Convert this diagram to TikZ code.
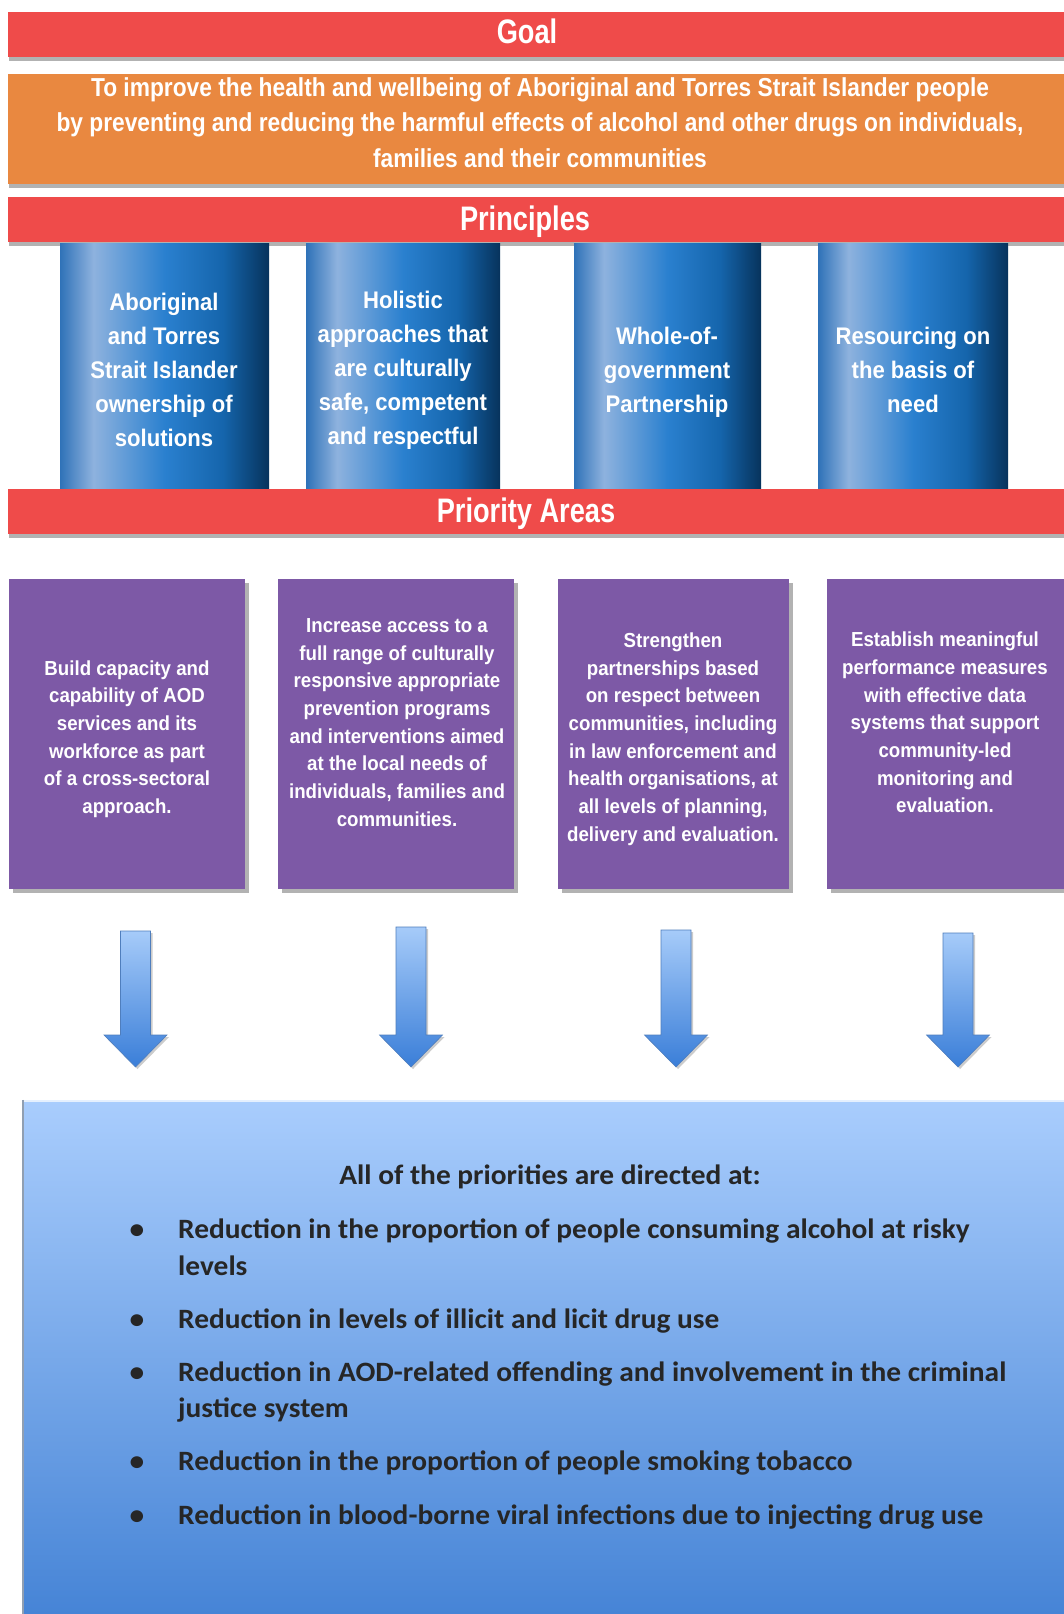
\documentclass[tikz,border=0pt]{standalone}
\usepackage{fontspec}
\setmainfont{Liberation Sans}[FakeStretch=0.92]
\newfontfamily\goalfont{Liberation Sans}[FakeStretch=0.875]
\newfontfamily\labelfont{Liberation Sans}[FakeStretch=0.8]
\newfontfamily\calfont{Carlito}[FakeStretch=1.05]
\usetikzlibrary{shadows}
\definecolor{barred}{HTML}{EF4B4A}
\definecolor{goalorange}{HTML}{E98840}
\definecolor{prpurple}{HTML}{7D59A6}
\definecolor{plA}{HTML}{2F72B8}
\definecolor{plB}{HTML}{8EB2DE}
\definecolor{plC}{HTML}{2A80CF}
\definecolor{plD}{HTML}{1565AC}
\definecolor{plE}{HTML}{07335C}
\definecolor{boxtop}{HTML}{A9CDFD}
\definecolor{boxbot}{HTML}{4684D6}
\definecolor{arrtop}{HTML}{A6CBF9}
\definecolor{arrbot}{HTML}{3A7ED8}
\definecolor{outtext}{HTML}{262626}
\pgfdeclarehorizontalshading{pillarshade}{100bp}{color(0bp)=(plA); color(25bp)=(plA); color(33bp)=(plB); color(50bp)=(plC); color(64bp)=(plD); color(75bp)=(plE); color(100bp)=(plE)}
\begin{document}
\begin{tikzpicture}[x=1pt,y=-1pt,
  barshadow/.style={drop shadow={shadow xshift=1pt,shadow yshift=-4pt,fill=black,opacity=0.3}},
  redbar/.style={rectangle,fill=barred,inner sep=0pt,minimum width=1056,minimum height=45,barshadow},
  bartxt/.style={text=white,inner sep=0pt,anchor=base,font=\labelfont\bfseries\fontsize{34}{40}\selectfont},
  goalbox/.style={rectangle,fill=goalorange,inner sep=0pt,minimum width=1056,minimum height=110,barshadow},
  goaltxt/.style={text=white,align=center,inner sep=0pt,font=\goalfont\bfseries\fontsize{26}{35.5}\selectfont},
  pillar/.style={rectangle,shade,shading=pillarshade,inner sep=0pt,minimum height=245},
  pillartxt/.style={text=white,align=center,inner sep=0pt,font=\bfseries\fontsize{24}{34}\selectfont},
  prbox/.style={rectangle,fill=prpurple,inner sep=0pt,minimum height=310,drop shadow={shadow xshift=4pt,shadow yshift=-4pt,fill=black,opacity=0.3}},
  prtxt/.style={text=white,align=center,inner sep=0pt,font=\bfseries\fontsize{20.3}{27.7}\selectfont},
  bluearrow/.style={top color=arrtop,bottom color=arrbot,draw=arrbot!70!gray,line width=0.6pt,drop shadow={shadow xshift=2pt,shadow yshift=-2pt,fill=black,opacity=0.2}},
  outbox/.style={rectangle,top color=boxtop,bottom color=boxbot,inner sep=0pt,minimum width=1041,minimum height=514},
  outtxt/.style={text=outtext,font=\calfont\bfseries\fontsize{28}{36.5}\selectfont,inner sep=0pt,align=left},
]
\useasboundingbox (0,0) rectangle (1064,1614);
\fill[white] (0,0) rectangle (1064,1614);

% bars and goal
\node[redbar] (goal) at (536,34) {};
\node[bartxt] (goall) at (527,43) {Goal};
\node[goalbox] (goalbg) at (536,129) {};
\node[goaltxt] (goaltext) at (540,122.5) {To improve the health and wellbeing of Aboriginal and Torres Strait Islander people\\by preventing and reducing the harmful effects of alcohol and other drugs on individuals,\\families and their communities};
\node[redbar] (principles) at (536,219.5) {};
\node[bartxt] (principlesl) at (525,230) {Principles};

% pillars
\node[pillar,minimum width=209] (p1) at (164.5,365.5) {};
\node[pillar,minimum width=194] (p2) at (403,365.5) {};
\node[pillar,minimum width=187] (p3) at (667.5,365.5) {};
\node[pillar,minimum width=190] (p4) at (913,365.5) {};
\node[pillartxt] (p1t) at (164,370) {Aboriginal\\and Torres\\Strait Islander\\ownership of\\solutions};
\node[pillartxt] (p2t) at (403,370) {Holistic\\approaches that\\are culturally\\safe, competent\\and respectful};
\node[pillartxt] (p3t) at (667,372) {Whole-of-\\government\\Partnership};
\node[pillartxt] (p4t) at (913,370) {Resourcing on\\the basis of\\need};

\node[redbar] (priorities) at (536,511) {};
\node[bartxt] (prioritiesl) at (526,522) {Priority Areas};

% priority boxes
\node[prbox,minimum width=236] (a1) at (127,734) {};
\node[prbox,minimum width=236] (a2) at (396,734) {};
\node[prbox,minimum width=231] (a3) at (673.5,734) {};
\node[prbox,minimum width=237] (a4) at (945.5,734) {};
\node[prtxt] (a1t) at (127,739) {Build capacity and\\capability of AOD\\services and its\\workforce as part\\of a cross-sectoral\\approach.};
\node[prtxt] (a2t) at (397,722.5) {Increase access to a\\full range of culturally\\responsive appropriate\\prevention programs\\and interventions aimed\\at the local needs of\\individuals, families and\\communities.};
\node[prtxt] (a3t) at (673,739) {Strengthen\\partnerships based\\on respect between\\communities, including\\in law enforcement and\\health organisations, at\\all levels of planning,\\delivery and evaluation.};
\node[prtxt] (a4t) at (945,722.5) {Establish meaningful\\performance measures\\with effective data\\systems that support\\community-led\\monitoring and\\evaluation.};

% block arrows
\foreach \cx/\ty in {135.5/931, 411/927, 676/930, 958/933}{
  \draw[bluearrow] (\cx-15,\ty) -- (\cx+15,\ty) -- (\cx+15,1035) -- (\cx+31.5,1035) -- (\cx,1067) -- (\cx-31.5,1035) -- (\cx-15,1035) -- cycle;
}

% outcomes box
\node[outbox] (outcomes) at (543.5,1357) {};
\draw[white!70!boxtop,line width=2pt] (outcomes.north west) ++(0,1.5) -- ++(1041,0);
\draw[gray!60!boxtop,line width=1.5pt] (outcomes.north west) -- (outcomes.south west);

\node[outtxt,anchor=base] (head) at (550,1184) {All of the priorities are directed at:};
\foreach \yy/\nm in {1238/b1,1328/b2,1381/b3,1470/b4,1524/b5}{
  \node[outtxt,anchor=base] (\nm) at (137,\yy) {•};
}
% for two-line items the base anchor is the last line's baseline
\node[outtxt,anchor=base west] (o1) at (178,1275) {Reduction in the proportion of people consuming alcohol at risky\\levels};
\node[outtxt,anchor=base west] (o2) at (178,1328) {Reduction in levels of illicit and licit drug use};
\node[outtxt,anchor=base west] (o3) at (178,1417.5) {Reduction in AOD-related offending and involvement in the criminal\\justice system};
\node[outtxt,anchor=base west] (o4) at (178,1470) {Reduction in the proportion of people smoking tobacco};
\node[outtxt,anchor=base west] (o5) at (178,1524) {Reduction in blood-borne viral infections due to injecting drug use};
\end{tikzpicture}
\end{document}
